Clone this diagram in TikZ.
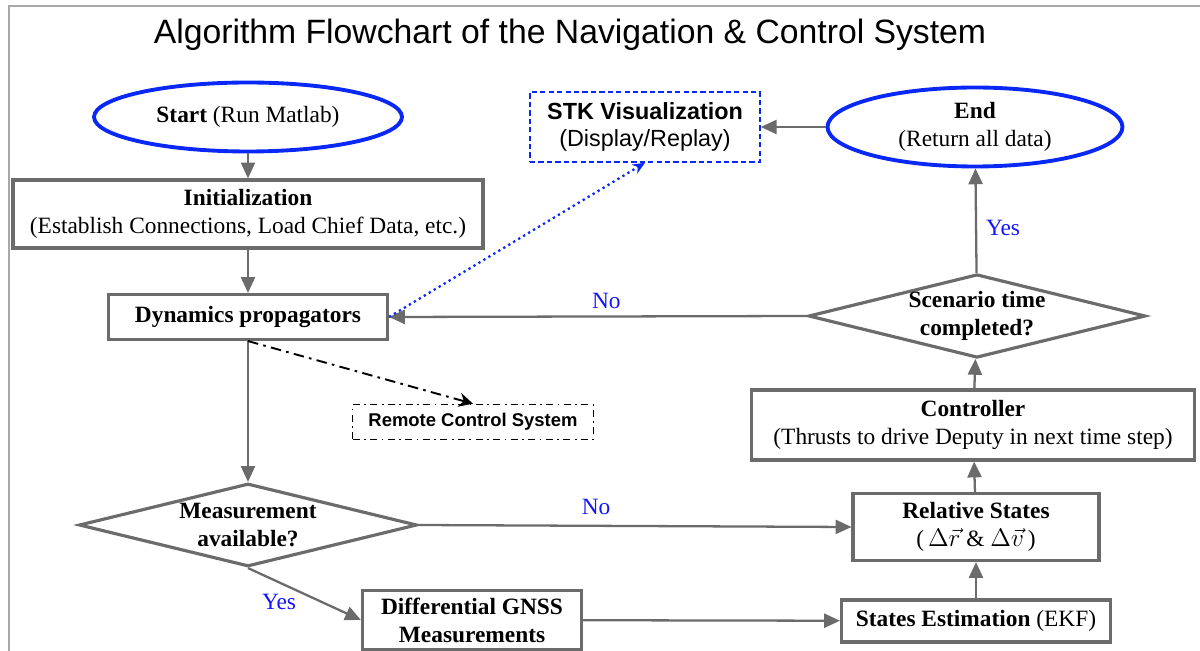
\documentclass[tikz,border=0pt]{standalone}
\usepackage{fontspec}
\setmainfont{Liberation Serif}
\setsansfont{Liberation Sans}
\usetikzlibrary{shapes.geometric,arrows.meta}

\definecolor{linegray}{HTML}{6B6B6B}
\definecolor{ovalblue}{HTML}{0A28F5}
\definecolor{textblue}{HTML}{1414FF}
\definecolor{framegray}{HTML}{A8A8A8}

\begin{document}
\begin{tikzpicture}[x=0.02cm, y=-0.02cm,
  every node/.style={font=\fontsize{13.3}{16}\selectfont, align=center, inner sep=0pt},
  box/.style={rectangle, draw=linegray, line width=1.8pt},
  oval/.style={ellipse, draw=ovalblue, line width=2.2pt},
  decision/.style={diamond, aspect=4, draw=linegray, line width=1.8pt},
  flow/.style={draw=linegray, line width=1.3pt, -{Triangle[length=9pt,width=8pt]}},
  answer/.style={text=textblue},
]
  \useasboundingbox (0,0) rectangle (1200,651);

  % Frame and title
  \draw[framegray, line width=1.1pt] (9,651) -- (9,6) -- (1200,6);
  \node[font=\sffamily\fontsize{19.2}{23}\selectfont] (title) at (570,35)
    {Algorithm Flowchart of the Navigation \& Control System};

  % Define the blocks
  \node[oval, minimum width=6.16cm, minimum height=1.38cm] (start) at (248,117)
    {\textbf{Start} (Run Matlab)};
  \node[box, minimum width=9.4cm, minimum height=1.36cm] (init) at (248,214)
    {\textbf{Initialization}\\(Establish Connections, Load Chief Data, etc.)};
  \node[box, minimum width=5.58cm, minimum height=0.9cm] (dyn) at (248,317)
    {\textbf{Dynamics propagators}};
  \node[decision, minimum width=6.76cm, minimum height=1.66cm] (meas) at (248,525)
    {\textbf{Measurement}\\\textbf{available?}};
  \node[box, minimum width=4.38cm, minimum height=1.18cm] (gnss) at (472,620)
    {\textbf{Differential GNSS}\\\textbf{Measurements}};
  \node[box, minimum width=5.38cm, minimum height=0.84cm] (est) at (976,621)
    {\textbf{States Estimation} (EKF)};
  \node[box, minimum width=4.92cm, minimum height=1.34cm] (rel) at (976,527)
    {\textbf{Relative States}\\(\,$\Delta\vec{r}$ \& $\Delta\vec{v}$\,)};
  \node[box, minimum width=8.86cm, minimum height=1.4cm] (ctrl) at (973,425)
    {\textbf{Controller}\\(Thrusts to drive Deputy in next time step)};
  \node[decision, minimum width=6.74cm, minimum height=1.66cm] (scen) at (977,316)
    {\textbf{Scenario time}\\\textbf{completed?}};
  \node[oval, minimum width=5.9cm, minimum height=1.58cm] (finish) at (975,127)
    {\textbf{End}\\(Return all data)};
  \node[rectangle, draw=ovalblue, line width=0.9pt, dash pattern=on 3pt off 1.8pt,
    minimum width=4.6cm, minimum height=1.4cm, font=\sffamily\fontsize{13.3}{15.5}\selectfont] (stk) at (645,127)
    {\textbf{STK Visualization}\\(Display/Replay)};
  \node[rectangle, draw=black, line width=0.9pt, dash pattern=on 4pt off 2.5pt on 1pt off 2.5pt,
    minimum width=4.82cm, minimum height=0.7cm, font=\sffamily\bfseries\fontsize{10.5}{12}\selectfont] (remote) at (473,422)
    {Remote Control System};

  % Draw the main flow
  \draw[flow] (start) -- (init);
  \draw[flow] (init) -- (dyn);
  \draw[flow] (dyn) -- (meas);
  \draw[flow] (meas.east) -- node[answer, pos=0.41, above=5.5pt] {No} (rel.west);
  \draw[flow] (meas.south) -- (gnss.west);
  \node[answer] (yesgnss) at (279,602) {Yes};
  \draw[flow] (gnss) -- (est);
  \draw[flow] (est) -- (rel);
  \draw[flow] (rel) -- (ctrl);
  \draw[flow] (ctrl) -- (scen);
  \draw[flow] (scen) -- node[answer, pos=0.43, right=5pt] {Yes} (finish);
  \draw[flow] (scen.west) -- node[answer, pos=0.48, above=3.5pt] {No} (dyn.east);
  \draw[flow] (finish) -- (stk);

  % Side outputs
  \draw[ovalblue, line width=1.3pt, dotted, -{Stealth[length=7pt,width=6pt]}] (dyn.east) -- (stk.south);
  \draw[black, line width=1.1pt, dash pattern=on 6pt off 3pt on 1.5pt off 3pt, -{Stealth[length=8pt,width=8pt]}] (dyn.south) -- (remote.north);
\end{tikzpicture}
\end{document}
